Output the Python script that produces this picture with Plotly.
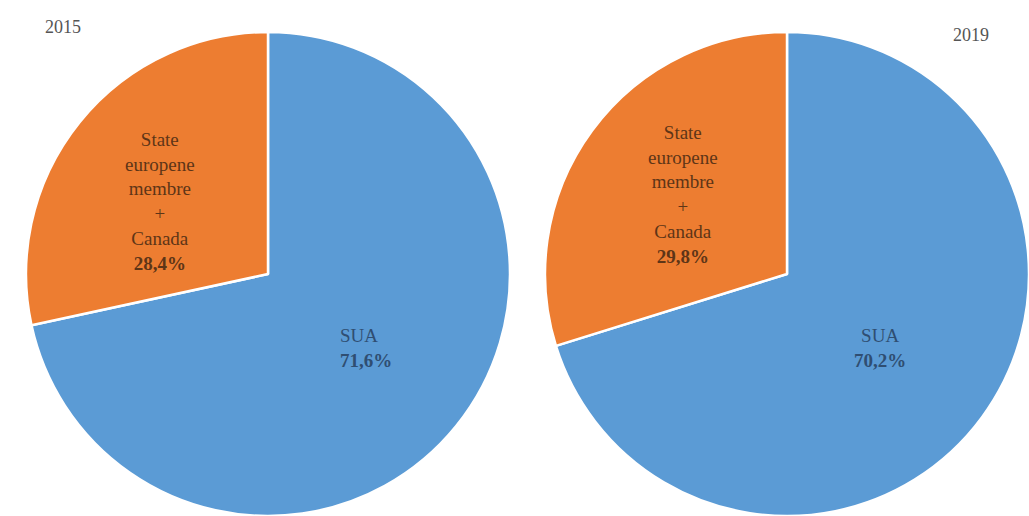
import plotly.graph_objects as go

# ---- data ----
years = ["2015", "2019"]
categories = ["SUA", "State europene membre + Canada"]
values_2015 = [71.6, 28.4]
values_2019 = [70.2, 29.8]

colors = ["#5B9BD5", "#ED7D31"]
label_colors = ["#2f4e72", "#5e3517"]

W, H = 1029, 516


def fmt_pct(v):
    return f"{v:.1f}".replace(".", ",") + "%"


def px(x):
    return x / W


def py(y):
    return 1 - y / H


fig = go.Figure()

pie_domains = [
    dict(x=[px(26), px(510)], y=[0, py(32)]),
    dict(x=[px(545), 1.0], y=[0, py(32)]),
]

for vals, dom in zip([values_2015, values_2019], pie_domains):
    fig.add_trace(go.Pie(
        labels=categories,
        values=vals,
        sort=False,
        direction="counterclockwise",
        rotation=0,
        marker=dict(colors=colors, line=dict(color="white", width=2.5)),
        textinfo="none",
        hoverinfo="label+percent",
        domain=dom,
    ))

font_family = "Liberation Serif, Times New Roman, serif"

# label anchor positions (pixels) for each pie: [blue, orange]
blue_pos = [(338, 348), (880, 348)]
blue_anchor = ["left", "center"]
orange_pos = [(160, 201), (683, 194)]

annotations = []
for i, vals in enumerate([values_2015, values_2019]):
    # blue slice label
    txt = f"{categories[0]}<br><b>{fmt_pct(vals[0])}</b>"
    annotations.append(dict(
        x=px(blue_pos[i][0]), y=py(blue_pos[i][1]), xref="paper", yref="paper",
        text=txt, showarrow=False, align=blue_anchor[i], xanchor=blue_anchor[i],
        yanchor="middle",
        font=dict(family=font_family, size=19, color=label_colors[0]),
    ))
    # orange slice label
    txt = "<br>".join(categories[1].split()) + f"<br><b>{fmt_pct(vals[1])}</b>"
    annotations.append(dict(
        x=px(orange_pos[i][0]), y=py(orange_pos[i][1]), xref="paper", yref="paper",
        text=txt, showarrow=False, align="center", xanchor="center", yanchor="middle",
        font=dict(family=font_family, size=19, color=label_colors[1]),
    ))

# year titles
year_pos = [(63, 27), (971, 35)]
for yr, (x, y) in zip(years, year_pos):
    annotations.append(dict(
        x=px(x), y=py(y), xref="paper", yref="paper", text=yr, showarrow=False,
        xanchor="center", yanchor="middle",
        font=dict(family=font_family, size=18, color="#555555"),
    ))

fig.update_layout(
    width=W, height=H,
    margin=dict(l=0, r=0, t=0, b=0),
    paper_bgcolor="white",
    plot_bgcolor="white",
    showlegend=False,
    annotations=annotations,
)

fig.write_html("out.html")
